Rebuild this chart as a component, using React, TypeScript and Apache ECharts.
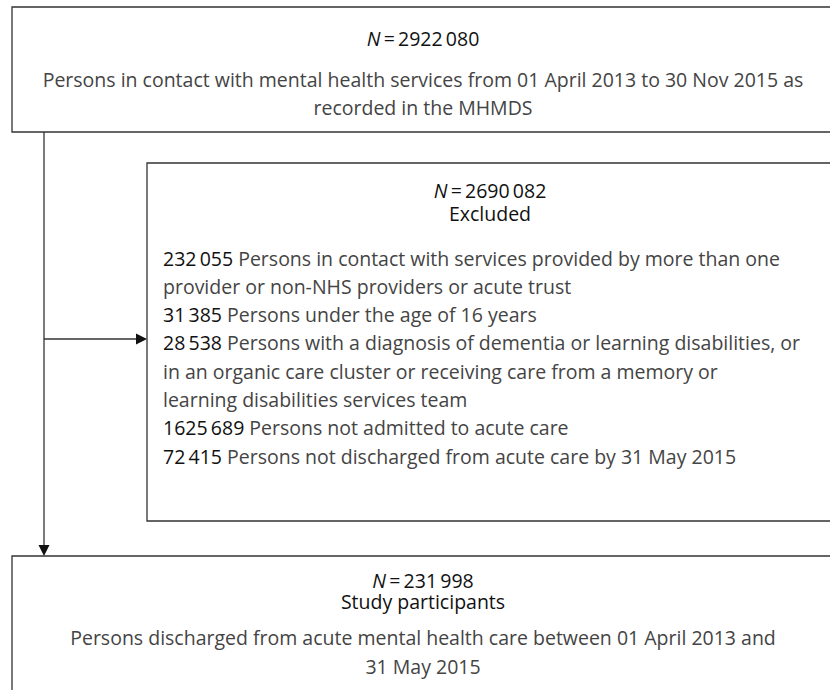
import React, { useEffect, useRef } from "react";
import * as echarts from "echarts";

// ---- data ----
const totalN = 2922080;
const totalDesc = [
  "Persons in contact with mental health services from 01 April 2013 to 30 Nov 2015 as",
  "recorded in the MHMDS",
];
const excludedN = 2690082;
const excludedTitle = "Excluded";
const exclusionCounts = [232055, 31385, 28538, 1625689, 72415];
const exclusionReasons = [
  ["Persons in contact with services provided by more than one", "provider or non-NHS providers or acute trust"],
  ["Persons under the age of 16 years"],
  [
    "Persons with a diagnosis of dementia or learning disabilities, or",
    "in an organic care cluster or receiving care from a memory or",
    "learning disabilities services team",
  ],
  ["Persons not admitted to acute care"],
  ["Persons not discharged from acute care by 31 May 2015"],
];
const participantsN = 231998;
const participantsTitle = "Study participants";
const participantsDesc = [
  "Persons discharged from acute mental health care between 01 April 2013 and",
  "31 May 2015",
];

const FONT = "'Open Sans', 'Noto Sans', sans-serif";
const FS = 19.5;
const BODY = "#444";
const DARK = "#111";
const LINE = "#333";

function fmt(n: number): string {
  const s = String(n);
  if (s.length <= 4) return s;
  return s.slice(0, s.length - 3) + "\u2009" + s.slice(s.length - 3);
}

function header(n: number, title: string | null, cx: number, y: number, lhh: number) {
  const txt = "{it|N}{r|\u2009=\u2009" + fmt(n) + "}" + (title ? "\n{r|" + title + "}" : "");
  return {
    type: "text",
    x: cx,
    y,
    style: {
      text: txt,
      align: "center",
      verticalAlign: "top",
      fontFamily: FONT,
      fontSize: FS,
      lineHeight: lhh,
      fill: DARK,
      rich: {
        it: { fontStyle: "italic", fontFamily: FONT, fontSize: FS, lineHeight: lhh, fill: DARK },
        r: { fontFamily: FONT, fontSize: FS, lineHeight: lhh, fill: DARK },
      },
    },
  };
}

function plain(text: string, x: number, y: number, align: string, fill = BODY) {
  return {
    type: "text",
    x,
    y,
    style: { text, align, verticalAlign: "middle", fontFamily: FONT, fontSize: FS, fill },
  };
}

export default function App() {
  const ref = useRef<HTMLDivElement>(null);
  useEffect(() => {
    document.body.style.margin = "0";
    const chart = echarts.init(ref.current!, null, { renderer: "svg" });
    const els: any[] = [];
    const boxStyle = { fill: "#fff", stroke: LINE, lineWidth: 1.3 };
    // boxes
    els.push({ type: "rect", shape: { x: 12, y: 7, width: 840, height: 125 }, style: boxStyle });
    els.push({ type: "rect", shape: { x: 147, y: 163, width: 700, height: 358 }, style: boxStyle });
    els.push({ type: "rect", shape: { x: 12, y: 556, width: 840, height: 200 }, style: boxStyle });
    // connectors
    els.push({ type: "line", shape: { x1: 44, y1: 132, x2: 44, y2: 546 }, style: { stroke: LINE, lineWidth: 1.3 } });
    els.push({ type: "polygon", shape: { points: [[38.5, 545], [49.5, 545], [44, 556]] }, style: { fill: "#111" } });
    els.push({ type: "line", shape: { x1: 44, y1: 339, x2: 137, y2: 339 }, style: { stroke: LINE, lineWidth: 1.3 } });
    els.push({ type: "polygon", shape: { points: [[136, 333.5], [136, 344.5], [147, 339]] }, style: { fill: "#111" } });

    // top box text
    const topCx = 423;
    els.push(header(totalN, null, topCx, 28, 20));
    totalDesc.forEach((t, i) => els.push(plain(t, topCx, 79 + i * 28, "center")));

    // inner box text
    const midCx = 490;
    els.push(header(excludedN, excludedTitle, midCx, 179, 23));
    let y = 258;
    const lh = 28.3;
    exclusionCounts.forEach((c, i) => {
      exclusionReasons[i].forEach((line, j) => {
        if (j === 0) {
          els.push({
            type: "text",
            x: 163,
            y,
            style: {
              text: "{n|" + fmt(c) + "} " + line,
              align: "left",
              verticalAlign: "middle",
              fontFamily: FONT,
              fontSize: FS,
              fill: BODY,
              rich: { n: { fontFamily: FONT, fontSize: FS, fill: DARK } },
            },
          });
        } else {
          els.push(plain(line, 163, y, "left"));
        }
        y += lh;
      });
    });

    // bottom box text
    els.push(header(participantsN, participantsTitle, topCx, 570, 21));
    participantsDesc.forEach((t, i) => els.push(plain(t, topCx, 637 + i * 29.5, "center")));

    chart.setOption({ animation: false, graphic: { elements: els } });
    return () => chart.dispose();
  }, []);
  return <div ref={ref} style={{ width: 830, height: 690, background: "#fff" }} />;
}
